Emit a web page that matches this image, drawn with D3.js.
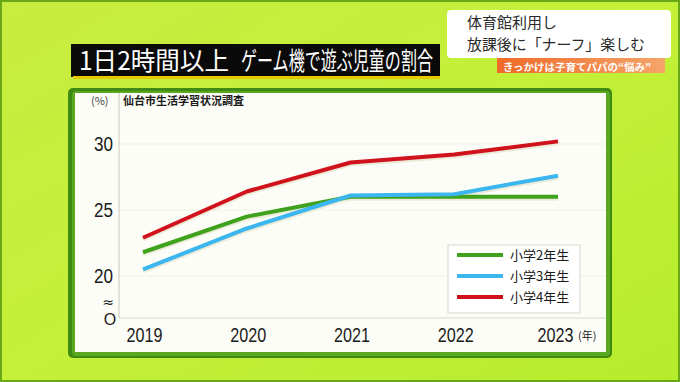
<!DOCTYPE html>
<meta charset="utf-8">
<script src="https://d3js.org/d3.v7.min.js"></script>
<style>
  body { margin: 0; background: #c2ee3a; }
  svg { display: block; }
  text { font-family: "Noto Sans CJK JP", "Noto Sans", sans-serif; }
</style>
<div id="chart"></div>
<script>
// data
var years = [2019, 2020, 2021, 2022, 2023];
var grade2 = [21.8, 24.5, 26.0, 26.0, 26.0];
var grade3 = [20.5, 23.6, 26.1, 26.2, 27.6];
var grade4 = [22.9, 26.4, 28.6, 29.2, 30.2];
var seriesNames = ["小学2年生", "小学3年生", "小学4年生"];
var yTicks = [20, 25, 30];

var W = 680, H = 382;
var svg = d3.select("#chart").append("svg").attr("width", W).attr("height", H);
var numFont = "'Liberation Sans', Arial, sans-serif";

// background
var defs = svg.append("defs");
var bg = defs.append("linearGradient").attr("id", "bg").attr("x1", 0).attr("y1", 0).attr("x2", 1).attr("y2", 1);
bg.append("stop").attr("offset", "0%").attr("stop-color", "#c8ec40");
bg.append("stop").attr("offset", "50%").attr("stop-color", "#c4f038");
bg.append("stop").attr("offset", "100%").attr("stop-color", "#b6ec2c");
svg.append("rect").attr("width", W).attr("height", H).attr("fill", "url(#bg)");
svg.append("rect").attr("x", 1).attr("y", 1).attr("width", W - 2).attr("height", H - 2)
  .attr("fill", "none").attr("stroke", "#6aa818").attr("stroke-width", 2);

// title box
svg.append("rect").attr("x", 71).attr("y", 44).attr("width", 369).attr("height", 33).attr("fill", "#0a0a0a");
svg.append("rect").attr("x", 73).attr("y", 76).attr("width", 367).attr("height", 3).attr("fill", "#e8c800");
svg.append("text").attr("x", 79).attr("y", 70)
  .attr("font-size", 25).attr("fill", "#fff")
  .attr("textLength", 150).attr("lengthAdjust", "spacingAndGlyphs")
  .text("1日2時間以上");
svg.append("text").attr("x", 241).attr("y", 70)
  .attr("font-size", 25).attr("fill", "#fff")
  .attr("textLength", 192).attr("lengthAdjust", "spacingAndGlyphs")
  .text("ゲーム機で遊ぶ児童の割合");

// top-right caption
svg.append("rect").attr("x", 447).attr("y", 10).attr("width", 224).attr("height", 48).attr("rx", 4).attr("fill", "#fff");
svg.append("text").attr("x", 467).attr("y", 28).attr("font-size", 15).attr("fill", "#2a2a2a").text("体育館利用し");
svg.append("text").attr("x", 467).attr("y", 50).attr("font-size", 15).attr("fill", "#2a2a2a")
  .attr("textLength", 178).attr("lengthAdjust", "spacingAndGlyphs").text("放課後に「ナーフ」楽しむ");
var og = defs.append("linearGradient").attr("id", "og").attr("x1", 0).attr("y1", 0).attr("x2", 1).attr("y2", 0);
og.append("stop").attr("offset", "0%").attr("stop-color", "#f06a28");
og.append("stop").attr("offset", "100%").attr("stop-color", "#f5a46a");
svg.append("rect").attr("x", 497).attr("y", 58).attr("width", 168).attr("height", 15).attr("fill", "url(#og)");
svg.append("text").attr("x", 503).attr("y", 71).attr("font-size", 10.5).attr("font-weight", "bold")
  .attr("fill", "#fff").text("きっかけは子育てパパの“悩み”");

// chart frame
svg.append("rect").attr("x", 68).attr("y", 88).attr("width", 544).attr("height", 270).attr("rx", 5).attr("fill", "#3f8a12");
svg.append("rect").attr("x", 72).attr("y", 91).attr("width", 538).attr("height", 265).attr("rx", 4).attr("fill", "#5aa820");
svg.append("rect").attr("x", 75).attr("y", 93).attr("width", 531).attr("height", 259).attr("fill", "#fdfdf8");

// scales
var x = d3.scaleLinear().domain([2019, 2023]).range([143, 558]);
var y = d3.scaleLinear().domain([20, 30]).range([276, 144]);
var plotLeft = 119, plotBottom = 318;

// faint grid
svg.append("g").selectAll("line").data(yTicks).join("line")
  .attr("x1", plotLeft).attr("x2", 606)
  .attr("y1", function (d) { return y(d); }).attr("y2", function (d) { return y(d); })
  .attr("stroke", "#f1f1ea").attr("stroke-width", 1);

// axes lines
svg.append("line").attr("x1", plotLeft).attr("x2", plotLeft).attr("y1", 93).attr("y2", plotBottom)
  .attr("stroke", "#c8c8c0");
svg.append("line").attr("x1", plotLeft).attr("x2", 606).attr("y1", plotBottom).attr("y2", plotBottom)
  .attr("stroke", "#d8d8d0");

// y axis
var yAxis = svg.append("g").attr("transform", "translate(" + plotLeft + ",0)")
  .call(d3.axisLeft(y).tickValues(yTicks).tickSize(0).tickPadding(6));
yAxis.select(".domain").remove();
yAxis.selectAll("text").attr("font-size", 20).attr("fill", "#1a1a1a")
  .attr("textLength", 19).attr("lengthAdjust", "spacingAndGlyphs")
  .style("font-family", numFont);
svg.append("text").attr("x", 108).attr("y", 307).attr("text-anchor", "middle")
  .attr("font-size", 14).attr("fill", "#1a1a1a").style("font-family", "'DejaVu Sans', sans-serif").text("≈");
svg.append("text").attr("x", 110).attr("y", 325).attr("text-anchor", "middle")
  .attr("font-size", 16).attr("fill", "#1a1a1a")
  .style("font-family", numFont).text("O");

// x axis
var xAxis = svg.append("g").attr("transform", "translate(1," + plotBottom + ")")
  .call(d3.axisBottom(x).tickValues(years).tickFormat(d3.format("d")).tickSize(0));
xAxis.select(".domain").remove();
xAxis.selectAll("text").attr("font-size", 21).attr("fill", "#1a1a1a")
  .attr("y", 24).attr("dy", 0)
  .attr("textLength", 36).attr("lengthAdjust", "spacingAndGlyphs")
  .style("font-family", numFont);
xAxis.selectAll(".tick").filter(function (d) { return d === 2023; }).select("text").attr("dx", -4);
svg.append("text").attr("x", 578).attr("y", 340).attr("font-size", 11).attr("fill", "#1a1a1a").text("(年)");

// subtitle
svg.append("text").attr("x", 91).attr("y", 105).attr("font-size", 11).attr("fill", "#444").text("(%)");
svg.append("text").attr("x", 123).attr("y", 105).attr("font-size", 11).attr("font-weight", "bold")
  .attr("fill", "#1a1a1a").text("仙台市生活学習状況調査");

// lines
var colors = ["#3ea21c", "#3cb6ee", "#d0121c"];
var series = [grade2, grade3, grade4];
var line = d3.line().x(function (d, i) { return x(years[i]); }).y(function (d) { return y(d); });
series.forEach(function (s, i) {
  svg.append("path").datum(s).attr("d", line).attr("fill", "none")
    .attr("stroke", "#ecebd8").attr("stroke-width", 4).attr("transform", "translate(0,2)");
});
series.forEach(function (s, i) {
  svg.append("path").datum(s).attr("d", line).attr("fill", "none")
    .attr("stroke", colors[i]).attr("stroke-width", 4).attr("stroke-linejoin", "round");
});

// legend
var lg = svg.append("g").attr("transform", "translate(448,245)");
lg.append("rect").attr("width", 132).attr("height", 68).attr("fill", "#fff")
  .attr("stroke", "#e4e4dc").attr("stroke-width", 1.5);
seriesNames.forEach(function (n, i) {
  lg.append("line").attr("x1", 9).attr("x2", 55).attr("y1", 10 + i * 21).attr("y2", 10 + i * 21)
    .attr("stroke", colors[i]).attr("stroke-width", 4);
  lg.append("text").attr("x", 62).attr("y", 15 + i * 21).attr("font-size", 13).attr("fill", "#1a1a1a").text(n);
});
</script>
